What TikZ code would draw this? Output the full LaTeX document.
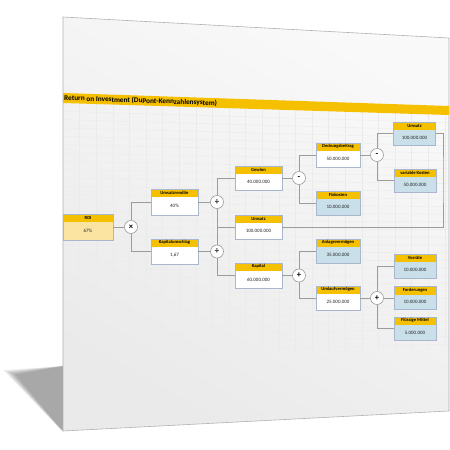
\documentclass[tikz,border=0pt]{standalone}
\usepackage{fontspec}
\setmainfont{Carlito}
\usetikzlibrary{calc}
\definecolor{hdr}{HTML}{F5C000}
\definecolor{roibody}{HTML}{FBE4A2}
\definecolor{leaf}{HTML}{C9DFEA}
\definecolor{bcol}{HTML}{A9B6CB}
\definecolor{lcol}{HTML}{9C9C9C}
\definecolor{gridc}{HTML}{EBEBEB}
\definecolor{pagetop}{HTML}{F9F9F9}
\definecolor{pagebot}{HTML}{EAEAEA}
\tikzset{
  kb/.style={draw=bcol, line width=0.6pt, inner sep=0pt,
    path picture={\fill[hdr] (path picture bounding box.north west) rectangle ($(path picture bounding box.north east)+(0,8)$);}},
  htext/.style={inner sep=0pt, font=\bfseries\fontsize{4.6}{5}\selectfont, text=black},
  vtext/.style={inner sep=0pt, font=\fontsize{5}{6}\selectfont, text=black!85},
  op/.style={circle, draw=lcol, fill=white, line width=0.6pt, minimum size=13pt, inner sep=0pt, font=\bfseries\fontsize{8.5}{8.5}\selectfont},
  ln/.style={draw=lcol, line width=0.8pt},
  titletext/.style={inner sep=0pt, font=\bfseries\fontsize{7.3}{8}\selectfont, text=black}
}
% name, x, y, w, h, body colour, title, value
\newcommand{\kbox}[8]{%
  \node[kb, minimum width=#4pt, minimum height=#5pt, fill=#6] (#1) at (#2,#3) {};
  \node[htext] (#1h) at ($(#1.north)+(0,4)$) {#7};
  \node[vtext] (#1v) at ($(#1.center)+(0,4)$) {#8};
}
\begin{document}
\begin{tikzpicture}[x=1pt,y=-1pt]
\useasboundingbox (0,0) rectangle (450,450);
\fill[white] (0,0) rectangle (450,450);
% shadow
\foreach \i in {0,...,8} {
  \fill[black, opacity=0.045] (3+1.6*\i,370+0.6*\i) -- (63,366) -- (63,431) -- (61-0.4*\i,430-0.6*\i) -- cycle;
}
% page
\shade[top color=pagetop, bottom color=pagebot, shading angle=-30] (63,17) -- (449,38) -- (449,411) -- (63,431) -- cycle;
% grid
\foreach \k in {1,...,23} {
  \pgfmathsetmacro{\gx}{63+\k*16.6}
  \pgfmathsetmacro{\gt}{103+(\gx-63)*0.031}
  \pgfmathsetmacro{\gb}{357-(\gx-63)*0.023}
  \draw[gridc, line width=0.4pt] (\gx,\gt) -- (\gx,\gb);
}
\foreach \j in {1,...,30} {
  \pgfmathsetmacro{\t}{\j/30.5}
  \pgfmathsetmacro{\yl}{103+\t*254}
  \pgfmathsetmacro{\yr}{115+\t*233}
  \draw[gridc, line width=0.4pt] (63,\yl) -- (449,\yr);
}
% page border
\draw[black!30, line width=0.6pt] (63,17) -- (449,38) -- (449,411) -- (63,431) -- cycle;
% title band
\fill[hdr] (63,93) -- (449,106) -- (449,115) -- (63,103) -- cycle;
\node[titletext, rotate=-1.9, anchor=west] (title) at (64,98.3) {Return on Investment (DuPont-Kennzahlensystem)};

% boxes
\kbox{roi}{88}{227}{50}{26}{roibody}{ROI}{67\%}
\kbox{ur}{174.5}{202}{47}{26}{white}{Umsatzrendite}{40\%}
\kbox{ku}{174.5}{251.5}{47}{25}{white}{Kapitalumschlag}{1,67}
\kbox{gew}{258.5}{178}{47}{24}{white}{Gewinn}{40.000.000}
\kbox{usM}{258.5}{227}{47}{24}{white}{Umsatz}{100.000.000}
\kbox{kap}{258.5}{275.5}{47}{25}{white}{Kapital}{60.000.000}
\kbox{db}{338}{155}{44}{24}{white}{Deckungsbeitrag}{50.000.000}
\kbox{fix}{338}{203}{44}{24}{leaf}{Fixkosten}{10.000.000}
\kbox{av}{338}{251}{44}{24}{leaf}{Anlagevermögen}{35.000.000}
\kbox{uv}{338}{298}{44}{24}{white}{Umlaufvermögen}{25.000.000}
\kbox{usT}{414.5}{133.5}{42}{23}{leaf}{Umsatz}{100.000.000}
\kbox{vk}{415}{180.5}{42}{23}{leaf}{variable Kosten}{50.000.000}
\kbox{vor}{415}{266}{42}{24}{leaf}{Vorräte}{10.000.000}
\kbox{ford}{415}{298}{42}{23}{leaf}{Forderungen}{10.000.000}
\kbox{fm}{415}{328.5}{42}{23}{leaf}{Flüssige Mittel}{5.000.000}

% operators
\node[op] (mul) at (131,227) {×};
\node[op] (div1) at (217,202) {÷};
\node[op] (div2) at (217,251.5) {÷};
\node[op] (min1) at (299,178) {-};
\node[op] (plus1) at (299,275.5) {+};
\node[op] (min2) at (377,155) {-};
\node[op] (plus2) at (377,298) {+};
\coordinate (cR) at (443,180);

% connectors
\draw[ln] (roi) -- (mul);
\draw[ln] (mul) |- (ur);
\draw[ln] (mul) |- (ku);
\draw[ln] (ur) -- (div1);
\draw[ln] (ku) -- (div2);
\draw[ln] (div1) |- (gew);
\draw[ln] (div1) -- (div2);
\draw[ln] (usM) -- (usM -| div1);
\draw[ln] (div2) |- (kap);
\draw[ln] (gew) -- (min1);
\draw[ln] (min1) |- (db);
\draw[ln] (min1) |- (fix);
\draw[ln] (kap) -- (plus1);
\draw[ln] (plus1) |- (av);
\draw[ln] (plus1) |- (uv);
\draw[ln] (db) -- (min2);
\draw[ln] (min2) |- (usT);
\draw[ln] (min2) |- (vk);
\draw[ln] (uv) -- (plus2);
\draw[ln] (plus2) |- (vor);
\draw[ln] (plus2) -- (ford);
\draw[ln] (plus2) |- (fm);
\draw[ln] (usT) -| (cR) |- (usM);
\end{tikzpicture}
\end{document}
